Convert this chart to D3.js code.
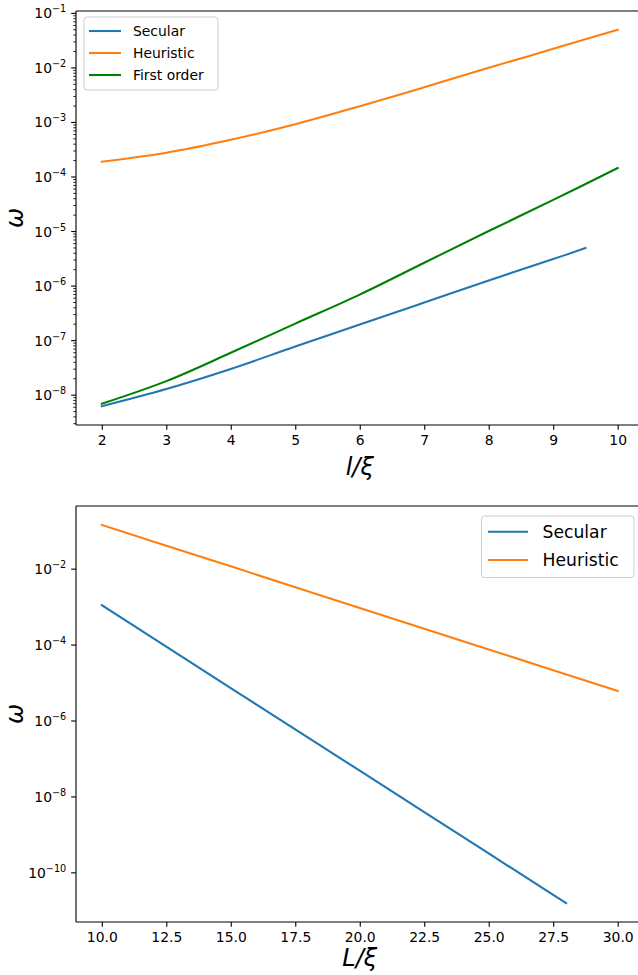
<!DOCTYPE html>
<html><head><meta charset="utf-8">
<script src="https://cdn.jsdelivr.net/npm/d3@7"></script>
<style>
body{margin:0;background:#fff}
svg text{font-family:"DejaVu Sans",sans-serif;fill:#000}
</style>
</head><body><svg id="c" width="638" height="975"></svg>
<script>
// ---------- Top panel data (l/xi) ----------
const topX = [2, 3, 4, 5, 6, 7, 8, 9, 10];
const topSecularX = [2, 3, 4, 5, 6, 7, 8, 9, 9.5];
const topSecular = [6.15e-9, 1.27e-8, 2.96e-8, 7.64e-8, 1.93e-7, 4.89e-7, 1.24e-6, 3.06e-6, 4.87e-6];
const topHeuristic = [1.87e-4, 2.73e-4, 4.72e-4, 9.08e-4, 1.94e-3, 4.33e-3, 9.84e-3, 2.19e-2, 4.89e-2];
const topFirstOrder = [6.81e-9, 1.77e-8, 5.85e-8, 2.01e-7, 6.84e-7, 2.62e-6, 1.00e-5, 3.72e-5, 1.43e-4];
const topXTicks = [2, 3, 4, 5, 6, 7, 8, 9, 10];
const topYExponents = [-8, -7, -6, -5, -4, -3, -2, -1];

// ---------- Bottom panel data (L/xi) ----------
const botX = [10, 12.5, 15, 17.5, 20, 22.5, 25, 27.5, 30];
const botSecularX = [10, 12.5, 15, 17.5, 20, 22.5, 25, 27.5, 28];
const botSecular = [1.09e-3, 8.83e-5, 7.18e-6, 5.85e-7, 4.75e-8, 3.86e-9, 3.14e-10, 2.55e-11, 1.55e-11];
const botHeuristic = [1.42e-1, 4.03e-2, 1.15e-2, 3.25e-3, 9.25e-4, 2.62e-4, 7.46e-5, 2.12e-5, 6.03e-6];
const botXTicks = [10, 12.5, 15, 17.5, 20, 22.5, 25, 27.5, 30];
const botYExponents = [-10, -8, -6, -4, -2];

const C_BLUE = "#1f77b4", C_ORANGE = "#ff7f0e", C_GREEN = "#008000";
const svg = d3.select("#c");
const LW = 2.08, TICK = 4.86, MINOR = 2.78, PAD = 4.86, FS = 13.9;

function logDomain(vals) {
  const lo = Math.log10(d3.min(vals)), hi = Math.log10(d3.max(vals));
  const m = (hi - lo) * 0.05;
  return [Math.pow(10, lo - m), Math.pow(10, hi + m)];
}
function linDomain(vals) {
  const lo = d3.min(vals), hi = d3.max(vals), m = (hi - lo) * 0.05;
  return [lo - m, hi + m];
}

function panel(cfg) {
  const g = svg.append("g");
  const x = d3.scaleLinear().domain(linDomain(cfg.xAll)).range([cfg.left, cfg.right]);
  const y = d3.scaleLog().domain(logDomain(cfg.yAll)).range([cfg.bottom, cfg.top]);

  // series
  cfg.series.forEach(s => {
    const line = d3.line().x(d => x(d[0])).y(d => y(d[1])).curve(cfg.curve);
    g.append("path").datum(s.xs.map((v, i) => [v, s.ys[i]]))
      .attr("d", line).attr("fill", "none").attr("stroke", s.color)
      .attr("stroke-width", LW).attr("stroke-linejoin", "round").attr("stroke-linecap", "square");
  });

  // minor y ticks
  if (cfg.minor) {
    const [d0, d1] = y.domain();
    const minors = [];
    for (let e = Math.floor(Math.log10(d0)); e <= Math.ceil(Math.log10(d1)); e++)
      for (let k = 2; k <= 9; k++) { const v = k * Math.pow(10, e); if (v >= d0 && v <= d1) minors.push(v); }
    const ma = g.append("g").attr("transform", `translate(${cfg.left},0)`)
      .call(d3.axisLeft(y).tickValues(minors).tickSize(MINOR).tickFormat(""));
    ma.select(".domain").remove();
    ma.selectAll("line").attr("stroke", "#000").attr("stroke-width", 0.83);
  }
  // major y ticks
  const ya = g.append("g").attr("transform", `translate(${cfg.left},0)`)
    .call(d3.axisLeft(y).tickValues(cfg.yExp.map(e => Math.pow(10, e))).tickSize(TICK).tickPadding(PAD).tickFormat(""));
  ya.select(".domain").remove();
  ya.selectAll("line").attr("stroke", "#000").attr("stroke-width", 1.11);
  g.selectAll("text.ylab").data(cfg.yExp).enter().append("text")
    .attr("class", "ylab")
    .attr("x", cfg.left - TICK - PAD).attr("y", e => y(Math.pow(10, e)) + 5.5)
    .attr("text-anchor", "end").style("font-size", FS + "px")
    .each(function (e) {
      const t = d3.select(this);
      t.append("tspan").text("10");
      t.append("tspan").attr("dy", -6).style("font-size", "9.7px").text("\u2212" + Math.abs(e));
    });

  // x axis
  const xa = g.append("g").attr("transform", `translate(0,${cfg.bottom})`)
    .call(d3.axisBottom(x).tickValues(cfg.xTicks).tickSize(TICK).tickPadding(PAD).tickFormat(cfg.xFmt));
  xa.select(".domain").remove();
  xa.selectAll("line").attr("stroke", "#000").attr("stroke-width", 1.11);
  xa.selectAll("text").attr("font-family", null).style("font-size", FS + "px").attr("fill", "#000");

  // spines
  const addLine = (x1, y1, x2, y2) => g.append("line").attr("x1", x1).attr("y1", y1)
    .attr("x2", x2).attr("y2", y2).attr("stroke", "#000").attr("stroke-width", 1.11);
  addLine(cfg.left, cfg.top, cfg.left, cfg.bottom);
  addLine(cfg.left, cfg.bottom, cfg.right, cfg.bottom);
  addLine(cfg.left, cfg.top, cfg.right, cfg.top);
  addLine(cfg.right, cfg.top, cfg.right, cfg.bottom);

  // axis labels
  g.append("text").attr("x", (cfg.left + cfg.right) / 2).attr("y", cfg.xLabelY)
    .attr("text-anchor", "middle").style("font-size", "24px").style("font-style", "italic")
    .text(cfg.xLabel);
  g.append("text").attr("transform", `translate(23,${(cfg.top + cfg.bottom) / 2}) rotate(-90)`)
    .attr("text-anchor", "middle").style("font-size", "24px").style("font-style", "italic")
    .text("\u03c9");

  // legend
  const L = cfg.legend;
  const lg = g.append("g");
  lg.append("rect").attr("x", L.x).attr("y", L.y).attr("width", L.w).attr("height", L.h)
    .attr("rx", 3).attr("fill", "#fff").attr("fill-opacity", 0.8).attr("stroke", "#cccccc").attr("stroke-width", 1);
  cfg.series.forEach((s, i) => {
    const cy = L.row0 + i * L.dy;
    lg.append("line").attr("x1", L.hx0).attr("x2", L.hx1).attr("y1", cy).attr("y2", cy)
      .attr("stroke", s.color).attr("stroke-width", LW);
    lg.append("text").attr("x", L.tx).attr("y", cy + L.fs * 0.36).style("font-size", L.fs + "px").text(s.name);
  });
}

panel({
  left: 76, right: 643.5, top: 11, bottom: 425,
  xAll: topX, yAll: [...topSecular, ...topHeuristic, ...topFirstOrder],
  series: [
    { name: "Secular", xs: topSecularX, ys: topSecular, color: C_BLUE },
    { name: "Heuristic", xs: topX, ys: topHeuristic, color: C_ORANGE },
    { name: "First order", xs: topX, ys: topFirstOrder, color: C_GREEN }
  ],
  curve: d3.curveCatmullRom.alpha(0.5), minor: true,
  yExp: topYExponents, xTicks: topXTicks, xFmt: d3.format("d"),
  xLabel: "l/\u03be", xLabelY: 475,
  legend: { x: 84, y: 17, w: 134, h: 73, row0: 31, dy: 22, hx0: 89, hx1: 121, tx: 133, fs: FS }
});

panel({
  left: 76, right: 643.5, top: 506, bottom: 922,
  xAll: botX, yAll: [...botSecular, ...botHeuristic],
  series: [
    { name: "Secular", xs: botSecularX, ys: botSecular, color: C_BLUE },
    { name: "Heuristic", xs: botX, ys: botHeuristic, color: C_ORANGE }
  ],
  curve: d3.curveLinear, minor: false,
  yExp: botYExponents, xTicks: botXTicks, xFmt: d3.format(".1f"),
  xLabel: "L/\u03be", xLabelY: 966,
  legend: { x: 481.5, y: 516, w: 152.5, h: 61.5, row0: 531.7, dy: 28.3, hx0: 488, hx1: 528, tx: 542.5, fs: 17.2 }
});
</script>
</body></html>
